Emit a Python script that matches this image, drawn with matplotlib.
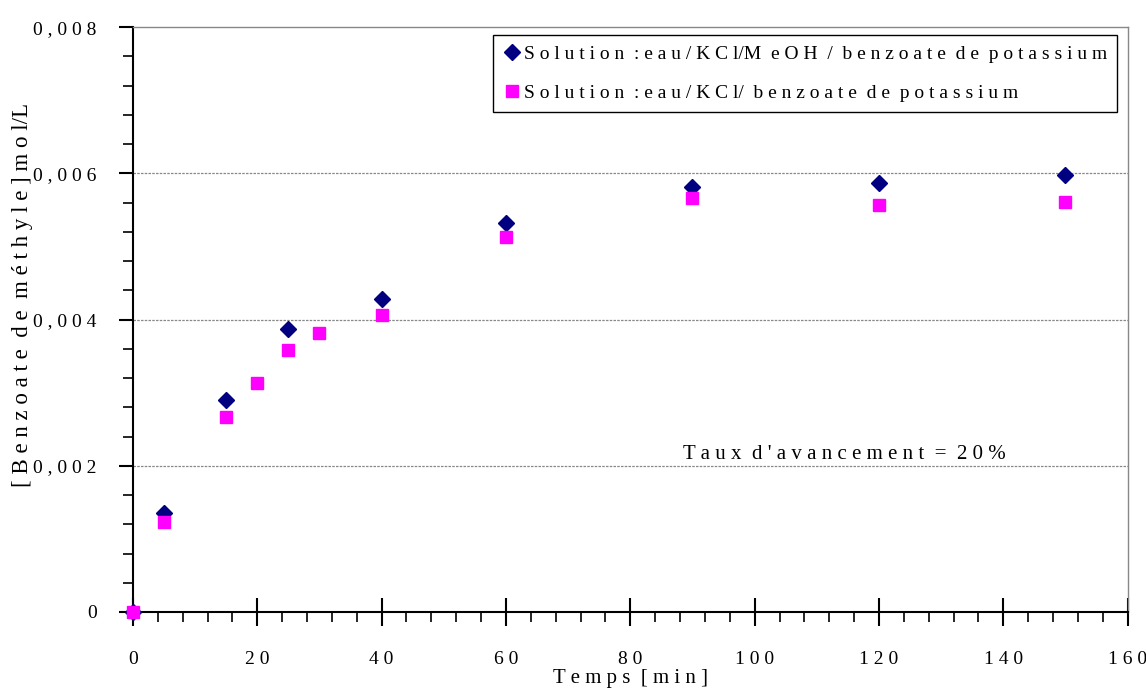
import matplotlib.pyplot as plt
from matplotlib.ticker import MultipleLocator, FuncFormatter

# Data
t_meoh = [0, 5, 15, 25, 40, 60, 90, 120, 150]
c_meoh = [0.0, 0.00135, 0.00290, 0.00387, 0.00428, 0.00532, 0.00581, 0.00587, 0.00598]
t_kcl = [0, 5, 15, 20, 25, 30, 40, 60, 90, 120, 150]
c_kcl = [0.0, 0.00123, 0.00267, 0.00313, 0.00358, 0.00382, 0.00406, 0.00513, 0.00567, 0.00557, 0.00561]

label_meoh = 'S o l u t i o n  : e a u / K C l/M  e O H  /  b e n z o a t e  d e  p o t a s s i u m'
label_kcl = 'S o l u t i o n  : e a u / K C l/  b e n z o a t e  d e  p o t a s s i u m'


def spaced(s):
    return ' '.join(s)


plt.rcParams['font.family'] = ['Liberation Serif', 'DejaVu Serif']

fig = plt.figure(figsize=(11.46, 6.99), dpi=100)
ax = fig.add_axes([0.116, 0.1245, 0.868, 0.8365])

ax.plot(t_meoh, c_meoh, linestyle='none', marker='D', ms=8, color='#000080',
        label=label_meoh, zorder=3, clip_on=False)
ax.plot(t_kcl, c_kcl, linestyle='none', marker='s', ms=9, color='#FF00FF',
        label=label_kcl, zorder=4, clip_on=False)

ax.set_xlim(0, 160)
ax.set_ylim(0, 0.008)
ax.xaxis.set_major_locator(MultipleLocator(20))
ax.xaxis.set_minor_locator(MultipleLocator(4))
ax.yaxis.set_major_locator(MultipleLocator(0.002))
ax.yaxis.set_minor_locator(MultipleLocator(0.0004))

ax.xaxis.set_major_formatter(FuncFormatter(lambda v, p: spaced(f'{v:.0f}')))
ax.yaxis.set_major_formatter(
    FuncFormatter(lambda v, p: '0' if v == 0 else spaced(f'{v:.3f}'.replace('.', ','))))

ax.tick_params(axis='x', which='major', direction='inout', length=20, width=1.5,
               pad=18, labelsize=14)
ax.tick_params(axis='x', which='minor', direction='out', length=7, width=1.2)
ax.tick_params(axis='y', which='major', direction='out', length=10, width=1.5,
               pad=16, labelsize=14)
ax.tick_params(axis='y', which='minor', direction='out', length=7, width=1.2)

for y in [0.002, 0.004, 0.006]:
    ax.axhline(y, color='#888888', lw=0.9, ls=(0, (2, 1)), zorder=1)

for s in ['left', 'bottom']:
    ax.spines[s].set_linewidth(1.5)
    ax.spines[s].set_color('black')
for s in ['top', 'right']:
    ax.spines[s].set_linewidth(1.0)
    ax.spines[s].set_color('#888888')

ax.set_xlabel('T e m p s  [ m i n ]', fontsize=15)
ax.xaxis.set_label_coords(0.5, -0.097)
ax.set_ylabel('[ B e n z o a t e  d e  m é t h y l e ] m o l/L', fontsize=16.5)
ax.yaxis.set_label_coords(-0.1, 0.542)

ax.text(88.5, 0.00203, "T a u x  d ' a v a n c e m e n t  =  2 0 %", fontsize=15,
        ha='left', va='bottom')

leg = ax.legend(loc='upper right', fontsize=14, frameon=True, fancybox=False,
                edgecolor='black', framealpha=1, handletextpad=0.1,
                handlelength=1.0, borderpad=0.5, labelspacing=1.1,
                borderaxespad=0, bbox_to_anchor=(0.989, 0.986))
leg.get_frame().set_linewidth(1.0)

plt.savefig('out.png', dpi=100)
